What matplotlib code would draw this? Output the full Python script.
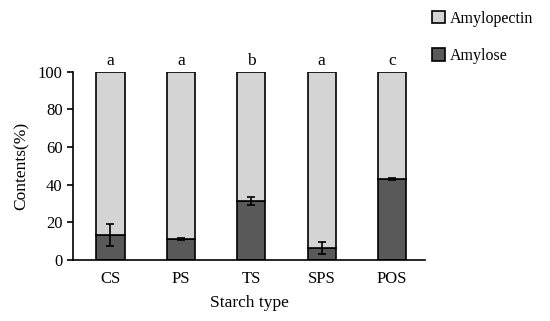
import matplotlib.pyplot as plt
import numpy as np

plt.rcParams['font.family'] = ['Liberation Serif', 'DejaVu Serif']

# data
starch = ['CS', 'PS', 'TS', 'SPS', 'POS']
amylose = [13.5, 11.2, 31.5, 6.5, 43.0]
amylose_err = [5.8, 0.5, 2.2, 3.2, 0.3]
letters = ['a', 'a', 'b', 'a', 'c']
amylopectin = [100 - v for v in amylose]

x = np.arange(len(starch))

fig = plt.figure(figsize=(5.5, 3.21), dpi=100)
ax = fig.add_axes([0.133, 0.19, 0.64, 0.587])

ax.bar(x, amylose, 0.4, color='#595959', edgecolor='black', linewidth=1.2,
       label='Amylose', zorder=2)
ax.bar(x, amylopectin, 0.4, bottom=amylose, color='#d4d4d4', edgecolor='black',
       linewidth=1.2, label='Amylopectin', zorder=2)
ax.errorbar(x, amylose, yerr=amylose_err, fmt='none', ecolor='black',
            elinewidth=1.2, capsize=3, capthick=1.2, zorder=3)

for xi, l in zip(x, letters):
    ax.text(xi, 101.5, l, ha='center', va='bottom', fontsize=12.5)

ax.set_xlim(-0.53, 4.47)
ax.set_ylim(0, 100)
ax.set_yticks(range(0, 101, 20))
ax.set_xticks(x)
ax.set_xticklabels(starch)
ax.tick_params(axis='x', length=0, pad=8, labelsize=12)
ax.tick_params(axis='y', length=4, width=1.2, labelsize=12)
ax.spines['top'].set_visible(False)
ax.spines['right'].set_visible(False)
ax.spines['left'].set_linewidth(1.2)
ax.spines['bottom'].set_linewidth(1.2)
ax.set_xlabel('Starch type', fontsize=12.5, labelpad=6)
ax.set_ylabel('Contents(%)', fontsize=12.5, labelpad=6)

h, lab = ax.get_legend_handles_labels()
ax.legend(h[::-1], lab[::-1], loc='upper left', bbox_to_anchor=(0.98, 1.40),
          frameon=False, fontsize=11.5, handlelength=0.8, handleheight=0.8,
          handletextpad=0.3, labelspacing=1.35)

fig.savefig('out.png', dpi=100)
